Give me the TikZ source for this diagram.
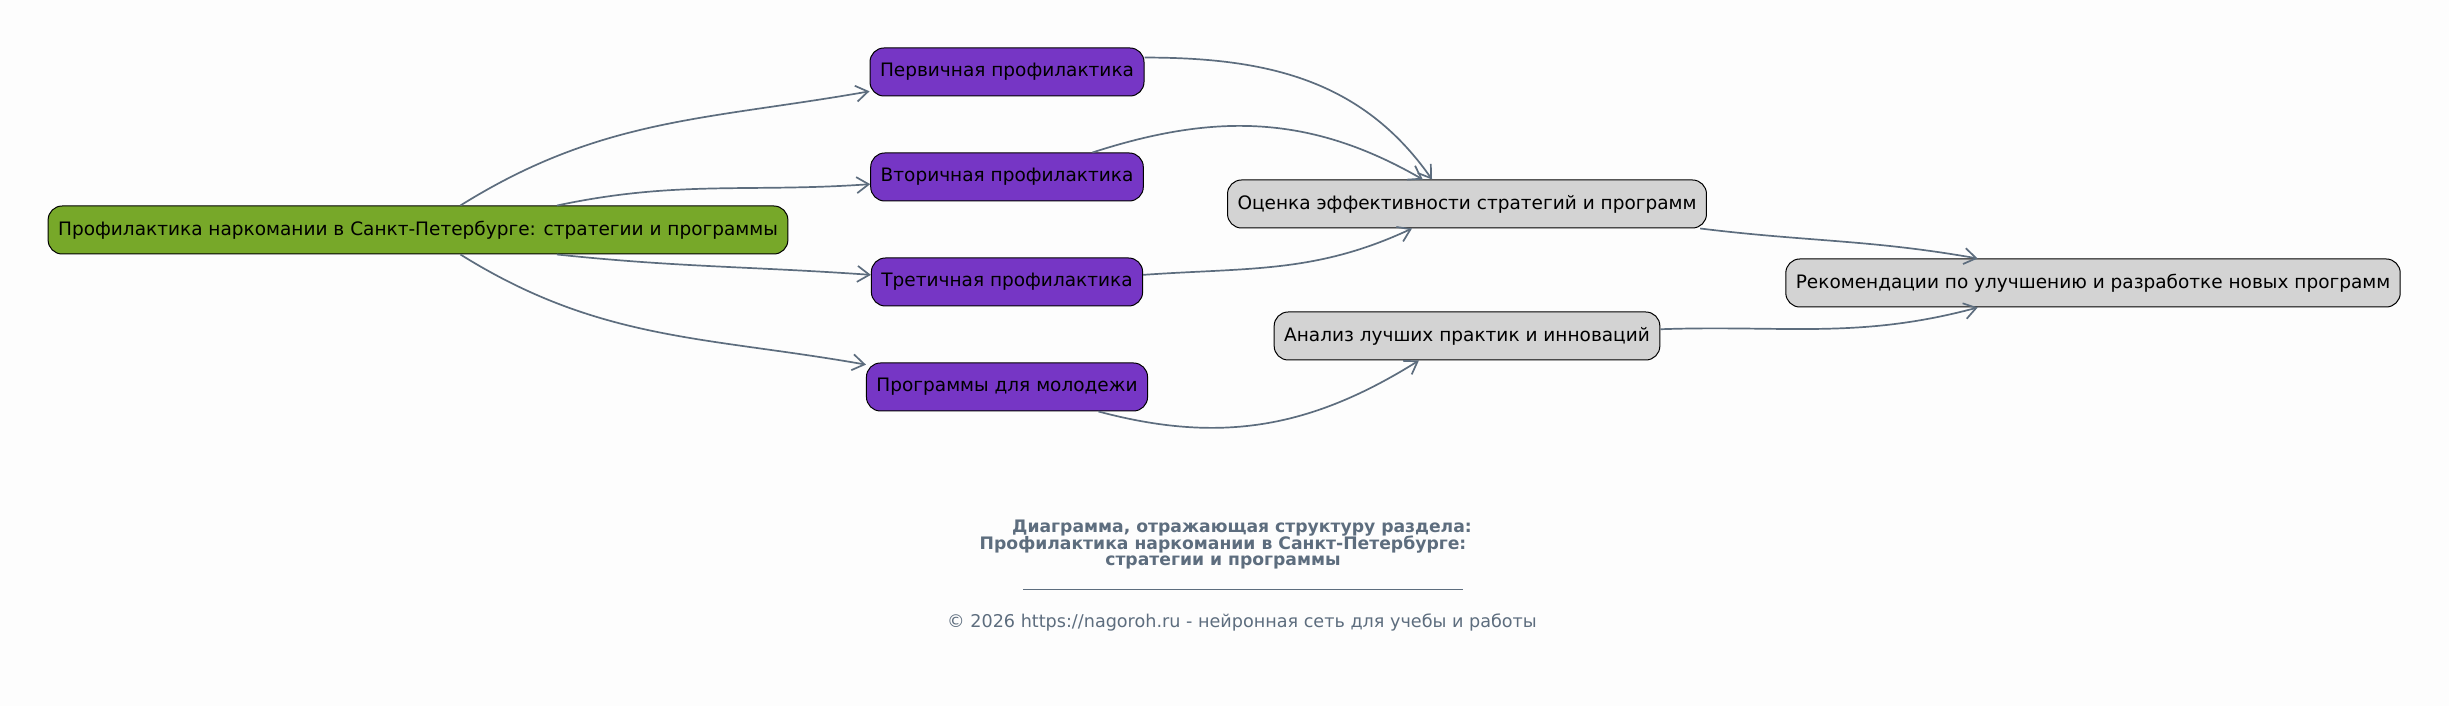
\documentclass[tikz,border=0pt]{standalone}
\usepackage{fontspec}
\setmainfont{DejaVu Sans}
\usepackage{tikz}
\usetikzlibrary{calc,shapes,arrows.meta}
\definecolor{slate}{HTML}{5D6D7E}
\definecolor{rootgreen}{HTML}{77A829}
\definecolor{stagepurple}{HTML}{7636C5}
\definecolor{resgray}{HTML}{D3D3D3}
\definecolor{bgpaper}{HTML}{FDFDFD}
\tikzset{
  box/.style={draw=black, line width=1pt, rounded corners=14pt, minimum height=48pt,
    inner xsep=10pt, font=\fontsize{18.5}{20}\selectfont, text=black},
  rootbox/.style={box, fill=rootgreen},
  stagebox/.style={box, fill=stagepurple},
  resbox/.style={box, fill=resgray},
  link/.style={draw=slate, line width=1.7pt, -{Straight Barb[length=12pt,width=16pt,line width=1.7pt]}},
  caption/.style={text=slate, font=\bfseries\fontsize{17.2}{18}\selectfont},
}
\begin{document}
\begin{tikzpicture}[x=1pt,y=1pt]
        \fill[bgpaper] (0,0) rectangle (2449,706);
        \useasboundingbox (0,0) rectangle (2449,706);
        \node[rootbox] (root) at (418,476) {Профилактика наркомании в Санкт-Петербурге: стратегии и программы};
        \node[stagebox] (prim) at (1007,634) {Первичная профилактика};
        \node[stagebox] (sec) at (1007,529) {Вторичная профилактика};
        \node[stagebox] (ter) at (1007,424) {Третичная профилактика};
        \node[stagebox] (youth) at (1007,319) {Программы для молодежи};
        \node[resbox] (eval) at (1467,502) {Оценка эффективности стратегий и программ};
        \node[resbox] (best) at (1467,370) {Анализ лучших практик и инноваций};
        \node[resbox] (recs) at (2093,423) {Рекомендации по улучшению и разработке новых программ};
        \draw[link] (root.30) to[out=32,in=190] (prim.188);
        \draw[link] (root.10) to[out=12,in=184] (sec.183);
        \draw[link] (root.-10) to[out=-6,in=176] (ter.177);
        \draw[link] (root.-30) to[out=-32,in=170] (youth.171);
        \draw[link] (prim.6) to[out=0,in=125] (eval.145);
        \draw[link] (sec.16) to[out=18,in=150] (eval.151);
        \draw[link] (ter.3) to[out=4,in=205] (eval.204);
        \draw[link] (youth.-15) to[out=-15,in=212] (best.207);
        \draw[link] (eval.-6) to[out=-7,in=170] (recs.168);
        \draw[link] (best.2) to[out=2,in=195] (recs.192);
        \node[caption] (title1) at (1242,178) {Диаграмма, отражающая структуру раздела:};
        \node[caption] (title2) at (1223,161) {Профилактика наркомании в Санкт-Петербурге:};
        \node[caption] (title3) at (1223,144) {стратегии и программы};
        \coordinate (ruleL) at (1023,117);
        \coordinate (ruleR) at (1463,117);
        \draw[slate, line width=0.8pt] (ruleL) -- (ruleR);
        \node[text=slate, font=\fontsize{17.6}{18}\selectfont] (copy) at (1242,84) {© 2026 https://nagoroh.ru - нейронная сеть для учебы и работы};
    \end{tikzpicture}
\end{document}
